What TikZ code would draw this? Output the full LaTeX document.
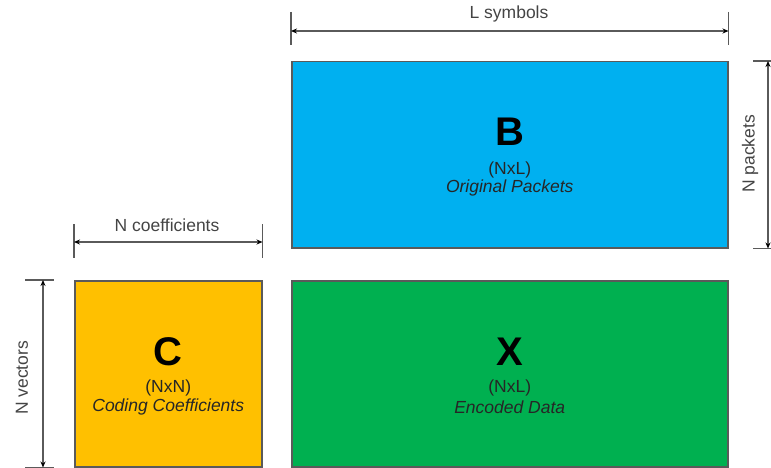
\documentclass[tikz,border=0pt]{standalone}
\usepackage{fontspec}
\setmainfont{Liberation Sans}
\usetikzlibrary{arrows.meta}
\definecolor{pktblue}{HTML}{00B0F0}
\definecolor{encgreen}{HTML}{00B050}
\definecolor{coefgold}{HTML}{FFC000}
\definecolor{rimgray}{HTML}{5A5A5A}
\definecolor{labgray}{HTML}{444444}
\tikzset{matbox/.style={draw=rimgray,line width=1.5pt,inner sep=0pt,anchor=north west}}
\tikzset{dimline/.style={draw=rimgray,line width=1.2pt,{Stealth[length=6pt,width=5pt,color=black]}-{Stealth[length=6pt,width=5pt,color=black]}}}
\tikzset{dimtick/.style={draw=rimgray,line width=1.5pt}}
\tikzset{dimlabel/.style={text=labgray,font=\fontsize{17.5}{20}\selectfont,inner sep=0pt}}
\tikzset{bigletter/.style={font=\fontsize{40}{42}\selectfont\bfseries,inner sep=0pt}}
\tikzset{subtext/.style={text=black!85,font=\fontsize{17.5}{20}\selectfont,inner sep=0pt}}

\begin{document}
\begin{tikzpicture}[x=1pt,y=-1pt]
                \useasboundingbox (0,0) rectangle (771,468);
                
                % Matrices
                \node[matbox,fill=pktblue,minimum width=436,minimum height=186] (B) at (291,61) {};
                \node[matbox,fill=encgreen,minimum width=436,minimum height=186] (X) at (291,280) {};
                \node[matbox,fill=coefgold,minimum width=187,minimum height=186] (C) at (74,280) {};
                
                % Matrix texts
                \node[bigletter] (Bname) at ([yshift=23pt]B.center) {B};
                \node[subtext] (Bsize) at ([yshift=-15pt]B.center) {(NxL)};
                \node[subtext] (Brole) at ([yshift=-33pt]B.center) {\itshape Original Packets};
                
                \node[bigletter] (Xname) at ([yshift=22pt]X.center) {X};
                \node[subtext] (Xsize) at ([yshift=-14pt]X.center) {(NxL)};
                \node[subtext] (Xrole) at ([yshift=-33pt]X.center) {\itshape Encoded Data};
                
                \node[bigletter] (Cname) at ([yshift=22pt]C.center) {C};
                \node[subtext] (Csize) at ([yshift=-14pt]C.center) {(NxN)};
                \node[subtext] (Crole) at ([yshift=-33pt]C.center) {\itshape Coding Coefficients};
                
                % L symbols
                \draw[dimtick] (B.north west |- 0,12) -- (B.north west |- 0,45);
                \draw[dimtick] (B.north east |- 0,12) -- (B.north east |- 0,45);
                \coordinate (Lleft) at (B.north west |- 0,31);
                \coordinate (Lright) at (B.north east |- 0,31);
                \draw[dimline] (Lleft) -- (Lright);
                \node[dimlabel] (Lsym) at (509,14) {L symbols};
                
                % N packets
                \draw[dimtick] (B.north east -| 753,0) -- (B.north east -| 771,0);
                \draw[dimtick] (B.south east -| 753,0) -- (B.south east -| 771,0);
                \coordinate (Ptop) at (B.north east -| 768,0);
                \coordinate (Pbot) at (B.south east -| 768,0);
                \draw[dimline] (Ptop) -- (Pbot);
                \node[dimlabel,rotate=90] (Npkt) at (750,154) {N packets};
                
                % N coefficients
                \draw[dimtick] (C.north west |- 0,224) -- (C.north west |- 0,258);
                \draw[dimtick] (C.north east |- 0,224) -- (C.north east |- 0,258);
                \coordinate (Cleft) at (C.north west |- 0,242);
                \coordinate (Cright) at (C.north east |- 0,242);
                \draw[dimline] (Cleft) -- (Cright);
                \node[dimlabel] (Ncoef) at (167,225) {N coefficients};
                
                % N vectors
                \draw[dimtick] (C.north west -| 25,0) -- (C.north west -| 54,0);
                \draw[dimtick] (C.south west -| 25,0) -- (C.south west -| 54,0);
                \coordinate (Vtop) at (C.north west -| 43,0);
                \coordinate (Vbot) at (C.south west -| 43,0);
                \draw[dimline] (Vtop) -- (Vbot);
                \node[dimlabel,rotate=90] (Nvec) at (22,378) {N vectors};
            \end{tikzpicture}
\end{document}
